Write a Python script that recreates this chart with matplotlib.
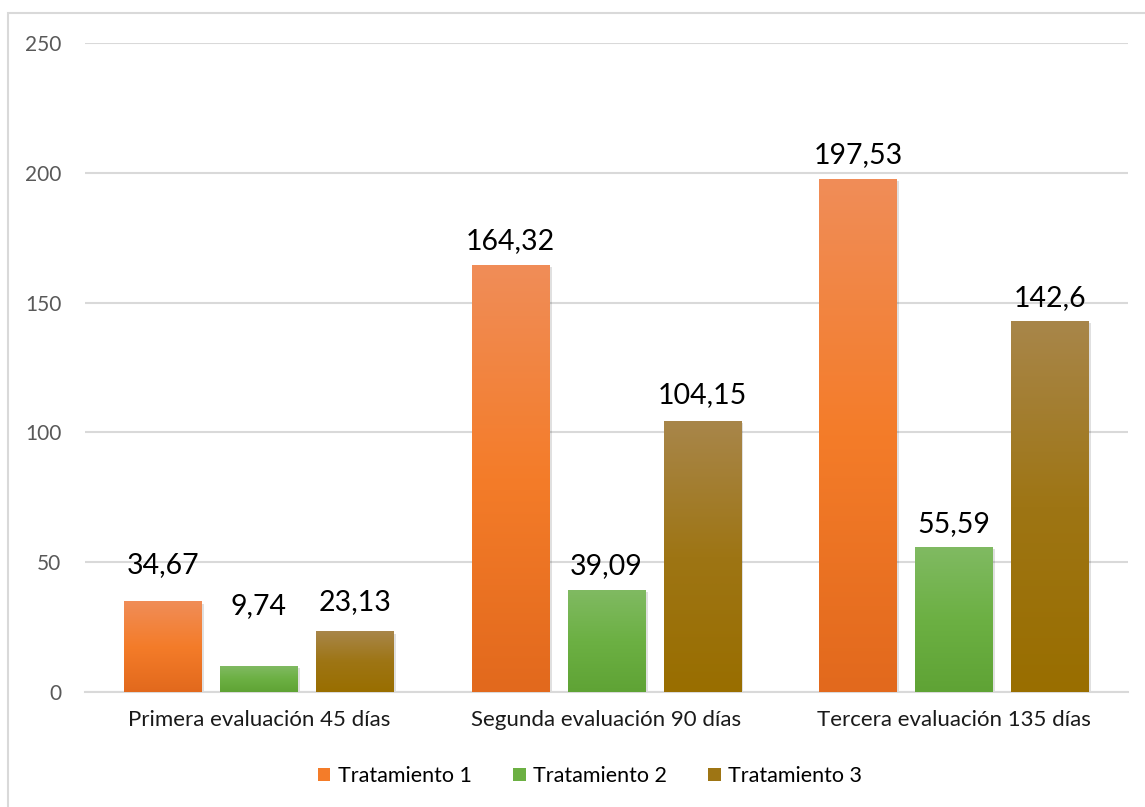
import numpy as np
import matplotlib
matplotlib.use("Agg")
import matplotlib.pyplot as plt
from matplotlib.colors import LinearSegmentedColormap
from matplotlib.patches import Rectangle, Patch

# data
categories = ["Primera evaluación 45 días", "Segunda evaluación 90 días", "Tercera evaluación 135 días"]
series_names = ["Tratamiento 1", "Tratamiento 2", "Tratamiento 3"]
t1 = [34.67, 164.32, 197.53]
t2 = [9.74, 39.09, 55.59]
t3 = [23.13, 104.15, 142.6]
labels_t1 = ["34,67", "164,32", "197,53"]
labels_t2 = ["9,74", "39,09", "55,59"]
labels_t3 = ["23,13", "104,15", "142,6"]

# gradient stops (top, middle, bottom)
grads = [
    ["#F08D58", "#F47C29", "#E2691D"],
    ["#80BA62", "#6CB043", "#5FA335"],
    ["#A8864A", "#9E7514", "#996E00"],
]
mid_colors = [g[1] for g in grads]
# extra lift (points) Excel gave some labels to avoid collisions
lifts = [[9, 0, 0], [26, 0, 0], [4, 2, 0]]

plt.rcParams["font.family"] = ["Lato", "DejaVu Sans"]

fig = plt.figure(figsize=(11.45, 8.07), dpi=100)
ax = fig.add_axes([85 / 1145, 1 - 692 / 807, 1043 / 1145, 649 / 807])

# outer chart border
fig.patches.append(Rectangle((8 / 1145, -0.05), 1.2, 1 - 13 / 807 + 0.05,
                             transform=fig.transFigure, fill=False,
                             edgecolor="#D9D9D9", lw=1.5))

x = np.arange(len(categories))
width = 0.224
step = 0.276
all_series = [t1, t2, t3]
all_labels = [labels_t1, labels_t2, labels_t3]

for i, (vals, labs) in enumerate(zip(all_series, all_labels)):
    cmap = LinearSegmentedColormap.from_list("g%d" % i, grads[i][::-1])
    xs = x + (i - 1) * step
    bars = ax.bar(xs, vals, width, color="none", zorder=3)
    for j, (b, lab) in enumerate(zip(bars, labs)):
        x0, w, h = b.get_x(), b.get_width(), b.get_height()
        # soft shadow
        ax.add_patch(Rectangle((x0 + 0.004, -0.6), w + 0.002, h, facecolor="#000000",
                               alpha=0.12, lw=0, zorder=2))
        grad = np.linspace(0, 1, 256).reshape(-1, 1)
        ax.imshow(grad, extent=(x0, x0 + w, 0, h), origin="lower", cmap=cmap,
                  aspect="auto", zorder=3, interpolation="bicubic")
        ax.annotate(lab, (x0 + w / 2, h), xytext=(0, 8 + lifts[i][j]), textcoords="offset points",
                    ha="center", va="bottom", fontsize=20.5, color="#000000")

ax.set_xlim(-0.5, 2.5)
ax.set_ylim(0, 250)
ax.set_yticks([0, 50, 100, 150, 200, 250])
ax.set_xticks(x)
ax.set_xticklabels(categories)
ax.yaxis.grid(True, color="#D9D9D9", lw=1.5, zorder=0)
ax.set_axisbelow(True)
for s in ["top", "right", "left"]:
    ax.spines[s].set_visible(False)
ax.spines["bottom"].set_color("#D9D9D9")
ax.spines["bottom"].set_linewidth(1.5)
ax.tick_params(axis="both", length=0, labelsize=15, colors="#595959")
ax.tick_params(axis="x", pad=13, labelcolor="#1A1A1A", labelsize=16)
ax.tick_params(axis="y", pad=17)

handles = [Patch(facecolor=c, edgecolor="none") for c in mid_colors]
fig.legend(handles, series_names, loc="center", bbox_to_anchor=(590 / 1145, 1 - 776 / 807),
           ncol=3, frameon=False, fontsize=15.5, handlelength=0.6, handleheight=0.6,
           handletextpad=0.35, columnspacing=1.9)

fig.savefig("out.png", dpi=100)
